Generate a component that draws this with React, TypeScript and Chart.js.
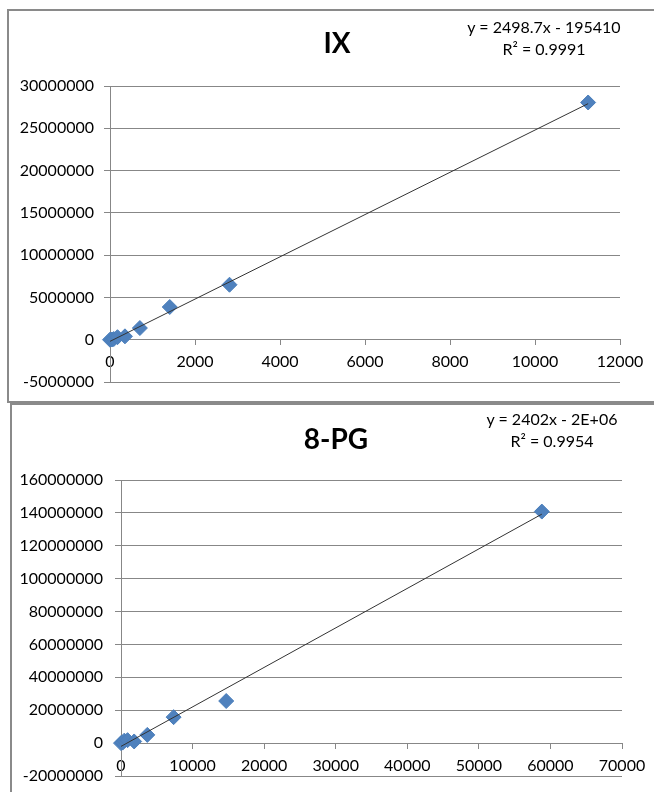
import React, { useEffect, useRef } from "react";
import { Chart, registerables } from "chart.js";

Chart.register(...registerables);

// ---------- Chart 1: IX ----------
const IX_TITLE = "IX";
const IX_X = [0, 44, 88, 176, 352, 703, 1406, 2812, 11250];
const IX_Y = [0, 20000, 80000, 300000, 400000, 1380000, 3870000, 6500000, 28050000];
const IX_SLOPE = 2498.7;
const IX_INTERCEPT = -195410;
const IX_EQUATION = "y = 2498.7x - 195410";
const IX_R2 = "R² = 0.9991";
const IX_X_RANGE = [0, 12000, 2000];
const IX_Y_RANGE = [-5000000, 30000000, 5000000];

// ---------- Chart 2: 8-PG ----------
const PG_TITLE = "8-PG";
const PG_X = [0, 230, 459, 919, 1838, 3675, 7350, 14700, 58800];
const PG_Y = [0, 300000, 1500000, 1800000, 1000000, 5000000, 15800000, 25600000, 140800000];
const PG_SLOPE = 2402;
const PG_INTERCEPT = -2000000;
const PG_EQUATION = "y = 2402x - 2E+06";
const PG_R2 = "R² = 0.9954";
const PG_X_RANGE = [0, 70000, 10000];
const PG_Y_RANGE = [-20000000, 160000000, 20000000];

const FONT = "Lato, 'Open Sans', 'DejaVu Sans', sans-serif";
const GRID = "#878787";
const MARKER = "#4F81BD";

type PanelProps = {
  xs: number[];
  ys: number[];
  slope: number;
  intercept: number;
  xRange: number[];
  yRange: number[];
  width: number;
  height: number;
  pad: { top: number; bottom: number; right: number };
  yAxisWidth: number;
  yLabelPad: number;
};

function Panel(p: PanelProps) {
  const ref = useRef<HTMLCanvasElement | null>(null);
  useEffect(() => {
    if (!ref.current) return;
    const points = p.xs.map((x, i) => ({ x, y: p.ys[i] }));
    const xMax = Math.max(...p.xs);
    const trend = [
      { x: 0, y: p.intercept },
      { x: xMax, y: p.slope * xMax + p.intercept },
    ];
    const chart = new Chart(ref.current, {
      type: "scatter",
      data: {
        datasets: [
          {
            type: "line",
            data: trend,
            borderColor: "#333333",
            borderWidth: 1,
            pointRadius: 0,
            fill: false,
            clip: false as any,
          },
          {
            data: points,
            pointStyle: "rectRot",
            pointRadius: 7.5,
            pointHoverRadius: 7.5,
            backgroundColor: MARKER,
            borderColor: "#4A7EBB",
            borderWidth: 1,
            clip: false as any,
          },
        ],
      },
      options: {
        animation: false,
        responsive: false,
        events: [],
        layout: { padding: { left: 0, top: p.pad.top, bottom: p.pad.bottom, right: p.pad.right } },
        plugins: { legend: { display: false }, tooltip: { enabled: false }, title: { display: false } },
        scales: {
          x: {
            type: "linear",
            position: { y: 0 } as any,
            min: p.xRange[0],
            max: p.xRange[1],
            ticks: {
              stepSize: p.xRange[2],
              callback: (v: any) => String(v),
              font: { family: FONT, size: 16 },
              color: "#000",
              padding: 8,
              maxRotation: 0,
            },
            grid: { drawOnChartArea: false, drawTicks: true, tickLength: 5, color: GRID },
            border: { display: true, color: GRID, width: 1 },
          },
          y: {
            type: "linear",
            position: "left",
            min: p.yRange[0],
            max: p.yRange[1],
            afterFit: (s: any) => {
              s.width = p.yAxisWidth;
              s.paddingTop = 0;
              s.paddingBottom = 0;
            },
            ticks: {
              stepSize: p.yRange[2],
              callback: (v: any) => String(v),
              font: { family: FONT, size: 16 },
              color: "#000",
              padding: p.yLabelPad,
            },
            grid: { color: GRID, tickLength: 6, lineWidth: 1 },
            border: { display: true, color: GRID, width: 1 },
          },
        },
      },
    });
    return () => chart.destroy();
  }, []);
  return (
    <canvas
      ref={ref}
      width={p.width}
      height={p.height}
      style={{ display: "block", width: p.width, height: p.height }}
    />
  );
}

const textBase: React.CSSProperties = {
  position: "absolute",
  width: 300,
  textAlign: "center",
  fontFamily: FONT,
  color: "#000",
  whiteSpace: "nowrap",
};

export default function App() {
  return (
    <div style={{ position: "absolute", left: 0, top: 0, width: 654, height: 792, overflow: "hidden", background: "#fff" }}>
      {/* frames */}
      <div style={{ position: "absolute", left: 7, top: 9, width: 700, height: 390, border: "2px solid #8a8a8a" }} />
      <div style={{ position: "absolute", left: 10, top: 403, width: 700, height: 500, border: "2px solid #8a8a8a" }} />

      {/* chart 1 */}
      <div style={{ position: "absolute", left: 0, top: 0 }}>
        <Panel
          xs={IX_X}
          ys={IX_Y}
          slope={IX_SLOPE}
          intercept={IX_INTERCEPT}
          xRange={IX_X_RANGE}
          yRange={IX_Y_RANGE}
          width={654}
          height={400}
          pad={{ top: 86, bottom: 18, right: 34 }}
          yAxisWidth={110}
          yLabelPad={10}
        />
      </div>
      <div style={{ ...textBase, left: 337 - 150, top: 26, fontSize: 28, fontWeight: 700, lineHeight: "32px" }}>{IX_TITLE}</div>
      <div style={{ ...textBase, left: 544 - 150, top: 16, fontSize: 16, lineHeight: "22px" }}>
        {IX_EQUATION}
        <br />
        {IX_R2}
      </div>

      {/* chart 2 */}
      <div style={{ position: "absolute", left: 0, top: 405 }}>
        <Panel
          xs={PG_X}
          ys={PG_Y}
          slope={PG_SLOPE}
          intercept={PG_INTERCEPT}
          xRange={PG_X_RANGE}
          yRange={PG_Y_RANGE}
          width={654}
          height={387}
          pad={{ top: 75, bottom: 16, right: 32 }}
          yAxisWidth={121}
          yLabelPad={12}
        />
      </div>
      <div style={{ ...textBase, left: 336 - 150, top: 422, fontSize: 28, fontWeight: 700, lineHeight: "32px" }}>{PG_TITLE}</div>
      <div style={{ ...textBase, left: 552 - 150, top: 408, fontSize: 16, lineHeight: "22px" }}>
        {PG_EQUATION}
        <br />
        {PG_R2}
      </div>
    </div>
  );
}
